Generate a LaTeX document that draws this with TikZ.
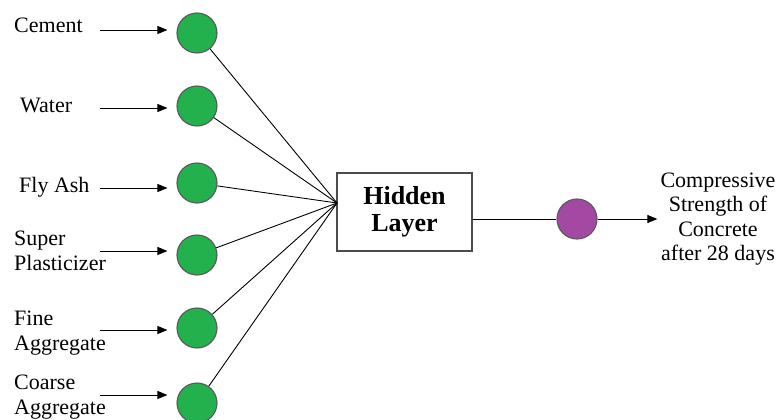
\documentclass[tikz,border=0pt]{standalone}
\usepackage{fontspec}
\setmainfont{Liberation Serif}
\usetikzlibrary{arrows.meta}

\begin{document}
\begin{tikzpicture}[x=1pt,y=-1pt,
  lbl/.style={anchor=base west,inner sep=0pt,align=left,
              font=\fontsize{22}{24.5}\selectfont},
  inp/.style={circle,minimum size=40pt,inner sep=0pt,fill=nodegreen,
              draw=black!65,line width=1.1pt},
  outn/.style={circle,minimum size=40pt,inner sep=0pt,fill=nodepurple,
               draw=black!65,line width=1.1pt},
  feed/.style={-{Triangle[length=10pt,width=8pt]},line width=0.9pt,shorten >=9pt},
  wire/.style={line width=0.9pt},
  hbox/.style={draw=black!70,line width=1.4pt,minimum width=135pt,minimum height=78pt,
               align=center,font=\bfseries\fontsize{26}{27.5}\selectfont}
]
\definecolor{nodegreen}{RGB}{34,177,76}
\definecolor{nodepurple}{RGB}{163,73,164}
\useasboundingbox (0,0) rectangle (777,420);

% input labels (anchored at the baseline of their last line)
\node[lbl] (l1) at (14,33)  {Cement};
\node[lbl] (l2) at (20,113) {Water};
\node[lbl] (l3) at (19,192) {Fly Ash};
\node[lbl] (l4) at (14,270) {Super\\Plasticizer};
\node[lbl] (l5) at (14,350) {Fine\\Aggregate};
\node[lbl] (l6) at (14,414) {Coarse\\Aggregate};

% input neurons
\node[inp] (c1) at (197,33)  {};
\node[inp] (c2) at (197,106) {};
\node[inp] (c3) at (197,183) {};
\node[inp] (c4) at (197,255) {};
\node[inp] (c5) at (197,328) {};
\node[inp] (c6) at (197,403) {};

% arrow tails
\coordinate (a1) at (100,30);
\coordinate (a2) at (100,108);
\coordinate (a3) at (100,188);
\coordinate (a4) at (100,251);
\coordinate (a5) at (100,330);
\coordinate (a6) at (100,395);

\foreach \i in {1,...,6}
  \draw[feed] (a\i) -- (a\i -| c\i.west);

% hidden layer
\node[hbox] (hid) at (404.5,212) {Hidden\\Layer};
\coordinate (fan) at (337,203);
\foreach \i in {1,...,6}
  \draw[wire] (c\i) -- (fan);

% output neuron and result
\node[outn] (o) at (577,219) {};
\draw[wire] (hid.east |- o) -- (o);
\node[align=center,inner sep=2pt,font=\fontsize{22}{24.5}\selectfont] (res) at (718,219)
  {Compressive\\Strength of\\Concrete\\after 28 days};
\draw[feed,shorten >=1pt] (o) -- (res.west);
\end{tikzpicture}
\end{document}
